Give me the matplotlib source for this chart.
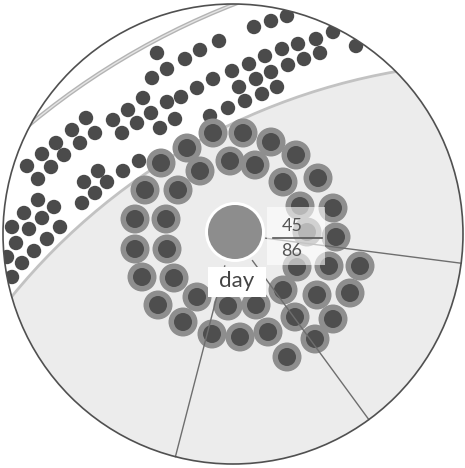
import matplotlib.pyplot as plt
from matplotlib.patches import Circle, Rectangle
import numpy as np

# dark dots in the white band (image pixel coords, y down)
band_x = [287, 271, 254, 333, 356, 316, 298, 282, 265, 249, 232, 213, 197, 219, 200, 185,
          320, 304, 288, 271, 256, 239, 277, 262, 245, 228, 210,
          157, 167, 152, 181, 167, 143, 128, 151, 137, 113, 122, 160, 175, 86, 72, 95, 80,
          56, 64, 42, 51, 27, 38, 98, 84, 107, 95, 123, 139, 82, 54, 38, 24, 42, 60, 29, 12,
          47, 16, 34, 7, 22, 12]
band_y = [16, 21, 27, 32, 46, 39, 44, 49, 56, 64, 71, 79, 88, 41, 50, 59,
          53, 59, 65, 72, 79, 87, 87, 94, 101, 108, 116,
          53, 69, 78, 97, 102, 98, 110, 113, 123, 120, 133, 128, 119, 118, 130, 133, 143,
          143, 155, 154, 167, 166, 179, 171, 182, 182, 193, 171, 161, 203, 207, 200, 213, 218, 227, 229, 227,
          239, 243, 251, 257, 263, 277]

# ringed dots of the spiral
ring_x = [213, 243, 271, 296, 187, 161, 200, 230, 255, 283, 318, 145, 178, 300, 333, 135, 166,
          307, 336, 135, 167, 297, 329, 360, 142, 174, 283, 317, 350, 158, 197, 228, 256,
          295, 333, 183, 212, 240, 268, 315, 287]
ring_y = [133, 133, 142, 155, 148, 163, 171, 161, 165, 182, 178, 190, 190, 206, 208, 219, 219,
          232, 237, 249, 249, 267, 266, 266, 277, 278, 290, 295, 293, 305, 297, 306, 305,
          317, 319, 322, 334, 337, 332, 339, 357]

# radial divider angles (deg, clockwise from east)
spoke_angles = [7.3, 53.8, 104.5]

label_day = "day"
frac_top = "45"
frac_bottom = "86"

cx, cy, R = 233, 234, 230
fig = plt.figure(figsize=(4.65, 4.68), dpi=100)
ax = fig.add_axes([0, 0, 1, 1])
ax.set_xlim(0, 465)
ax.set_ylim(468, 0)
ax.axis("off")

clip = Circle((cx, cy), R, transform=ax.transData, facecolor="none", edgecolor="none")
ax.add_patch(clip)

# shaded region and band edges
shade = Circle((506, 700), 638, facecolor="#ececec", edgecolor="#c2c2c2", lw=2, zorder=1)
ax.add_patch(shade)
shade.set_clip_path(clip)
outer = Circle((506, 700), 747, facecolor="none", edgecolor="#b4b4b4", lw=3, zorder=1)
ax.add_patch(outer)
outer.set_clip_path(clip)
outer2 = Circle((506, 700), 747, facecolor="none", edgecolor="#e4e4e4", lw=1, zorder=1)
ax.add_patch(outer2)
outer2.set_clip_path(clip)

for x, y in zip(band_x, band_y):
    c = Circle((x, y), 7.2, facecolor="#4b4b4b", edgecolor="none", zorder=2)
    ax.add_patch(c)
    c.set_clip_path(clip)

for x, y in zip(ring_x, ring_y):
    ax.add_patch(Circle((x, y), 14.5, facecolor="#8e8e8e", edgecolor="none", zorder=3))
for x, y in zip(ring_x, ring_y):
    ax.add_patch(Circle((x, y), 9, facecolor="#4e4e4e", edgecolor="none", zorder=4))

# spokes
for a in np.radians(spoke_angles):
    r = np.array([33, R])
    ax.plot(cx + r * np.cos(a), cy + r * np.sin(a), color="#6e6e6e", lw=1, zorder=5)

# centre disc
ax.add_patch(Circle((235, 232), 30, facecolor="white", edgecolor="none", zorder=6))
ax.add_patch(Circle((235, 232), 27, facecolor="#8d8d8d", edgecolor="none", zorder=7))

# labels
ax.add_patch(Rectangle((267, 207), 58, 58, facecolor="white", alpha=0.6, edgecolor="none", zorder=6))
ax.text(292, 226, frac_top, ha="center", va="center", fontsize=13, color="#555555",
        family="Lato", zorder=8)
ax.plot([273, 322], [238, 238], color="#555555", lw=1.2, zorder=8)
ax.text(292, 251, frac_bottom, ha="center", va="center", fontsize=13, color="#555555",
        family="Lato", zorder=8)

ax.add_patch(Rectangle((208, 267), 58, 30, facecolor="white", edgecolor="none", zorder=6))
ax.text(237, 281, label_day, ha="center", va="center", fontsize=16, color="#444444",
        family="Lato", zorder=8)

ax.add_patch(Circle((cx, cy), R, facecolor="none", edgecolor="#505050", lw=1.2, zorder=9))

fig.savefig("out.png", dpi=100)
